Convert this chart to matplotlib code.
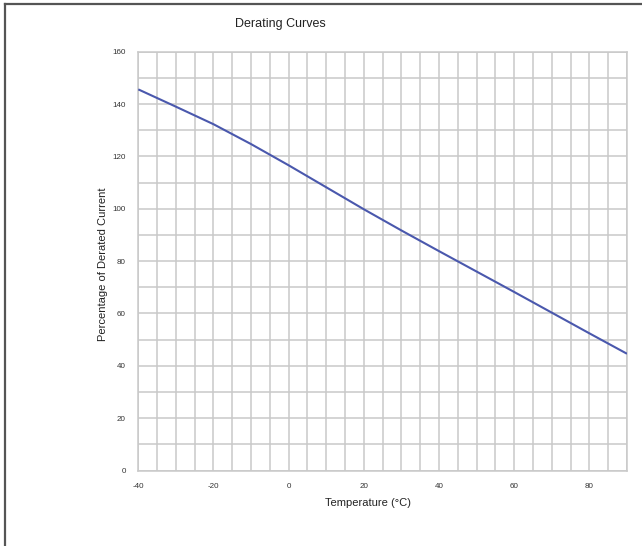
import matplotlib
matplotlib.use("Agg")
import matplotlib.pyplot as plt
from matplotlib.ticker import MultipleLocator
from matplotlib.lines import Line2D

plt.rcParams['font.family'] = ['Liberation Sans', 'DejaVu Sans']

# Data
temperature = [-40, -30, -20, -10, 0, 10, 20, 30, 40, 50, 60, 70, 80, 90]
percentage = [145.6, 139.0, 132.3, 124.7, 116.6, 108.2, 99.8, 91.7, 83.8, 76.0, 68.2, 60.3, 52.4, 44.6]

x_ticks = [-40, -20, 0, 20, 40, 60, 80]
y_ticks = [0, 20, 40, 60, 80, 100, 120, 140, 160]

title = "Derating Curves"
x_label = "Temperature (\u00b0C)"
y_label = "Percentage of Derated Current"

W, H = 642, 546
fig = plt.figure(figsize=(W / 100, H / 100), dpi=100)

left, right, top, bottom = 138.3, 627.0, 51.7, 470.5
ax = fig.add_axes([left / W, 1 - bottom / H, (right - left) / W, (bottom - top) / H])

ax.plot(temperature, percentage, color='#4a58ad', lw=1.5, solid_capstyle='butt', zorder=3)

ax.set_xlim(-40, 90)
ax.set_ylim(0, 160)
ax.xaxis.set_minor_locator(MultipleLocator(5))
ax.yaxis.set_minor_locator(MultipleLocator(10))
ax.set_xticks(x_ticks)
ax.set_yticks(y_ticks)
ax.set_xticklabels([str(v) for v in x_ticks])
ax.set_yticklabels([str(v) for v in y_ticks])
ax.grid(which='both', color='#c9c9c9', lw=1.1)
ax.set_axisbelow(True)
for s in ax.spines.values():
    s.set_color('#c9c9c9')
    s.set_linewidth(1.1)
ax.tick_params(which='both', length=0)
ax.tick_params(axis='x', pad=9, labelsize=5.8, labelcolor='#333333')
ax.tick_params(axis='y', pad=9, labelsize=5.8, labelcolor='#333333')

fig.text(280 / W, 1 - 24 / H, title, ha='center', va='center', fontsize=9, color='#222222')
fig.text(368 / W, 1 - 503 / H, x_label, ha='center', va='center', fontsize=8, color='#222222')
fig.text(103 / W, 1 - 264 / H, y_label, ha='center', va='center', rotation=90, fontsize=8, color='#222222')

# outer frame (left and top edges visible)
fig.add_artist(Line2D([5 / W, 5 / W], [0, 1 - 4 / H], transform=fig.transFigure, color='#555555', lw=1.6))
fig.add_artist(Line2D([5 / W, 1], [1 - 4 / H, 1 - 4 / H], transform=fig.transFigure, color='#555555', lw=1.6))

fig.savefig('out.png', dpi=100)
